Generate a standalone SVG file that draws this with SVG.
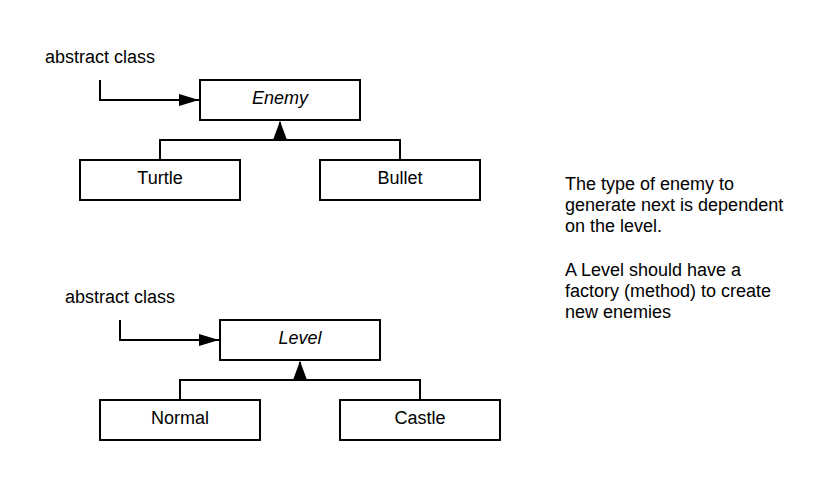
<svg xmlns="http://www.w3.org/2000/svg" width="840" height="480" viewBox="0 0 840 480">
<defs>
<style>
text{font-family:"Liberation Sans",Arial,sans-serif;font-size:18px;fill:#000}
.box{fill:#fff;stroke:#000;stroke-width:2}
.ln{fill:none;stroke:#000;stroke-width:2}
.it{font-style:italic}
</style>
<marker id="ah" viewBox="0 0 10 10" refX="10" refY="5" markerWidth="10" markerHeight="6" markerUnits="strokeWidth" orient="auto" preserveAspectRatio="none">
<path d="M0,0L10,5L0,10z" fill="#000"/>
</marker>
</defs>
<rect width="840" height="480" fill="#fff"/>
<g id="connectors">
<path class="ln" d="M100,80V100H199" marker-end="url(#ah)"/>
<path class="ln" d="M160,160V140H400V160M280,140V122"/>
<path d="M280,121L273,140H287z" fill="#000"/>
<path class="ln" d="M120,320V340H219" marker-end="url(#ah)"/>
<path class="ln" d="M180,400V380H420V400M300,380V362"/>
<path d="M300,361L293,380H307z" fill="#000"/>
</g>
<g id="label-abstract-enemy"><text x="45" y="63">abstract class</text></g>
<g id="enemy"><rect class="box" x="200" y="80" width="160" height="40"/><text class="it" x="280" y="104" text-anchor="middle">Enemy</text></g>
<g id="turtle"><rect class="box" x="80" y="160" width="160" height="40"/><text x="160" y="184" text-anchor="middle">Turtle</text></g>
<g id="bullet"><rect class="box" x="320" y="160" width="160" height="40"/><text x="400" y="184" text-anchor="middle">Bullet</text></g>
<g id="label-abstract-level"><text x="65" y="303">abstract class</text></g>
<g id="level"><rect class="box" x="220" y="320" width="160" height="40"/><text class="it" x="300" y="344" text-anchor="middle">Level</text></g>
<g id="normal"><rect class="box" x="100" y="400" width="160" height="40"/><text x="180" y="424" text-anchor="middle">Normal</text></g>
<g id="castle"><rect class="box" x="340" y="400" width="160" height="40"/><text x="420" y="424" text-anchor="middle">Castle</text></g>
<g id="note">
<text x="565" y="190">The type of enemy to</text>
<text x="565" y="211">generate next is dependent</text>
<text x="565" y="232">on the level.</text>
<text x="565" y="276">A Level should have a</text>
<text x="565" y="297">factory (method) to create</text>
<text x="565" y="318">new enemies</text>
</g>
</svg>
